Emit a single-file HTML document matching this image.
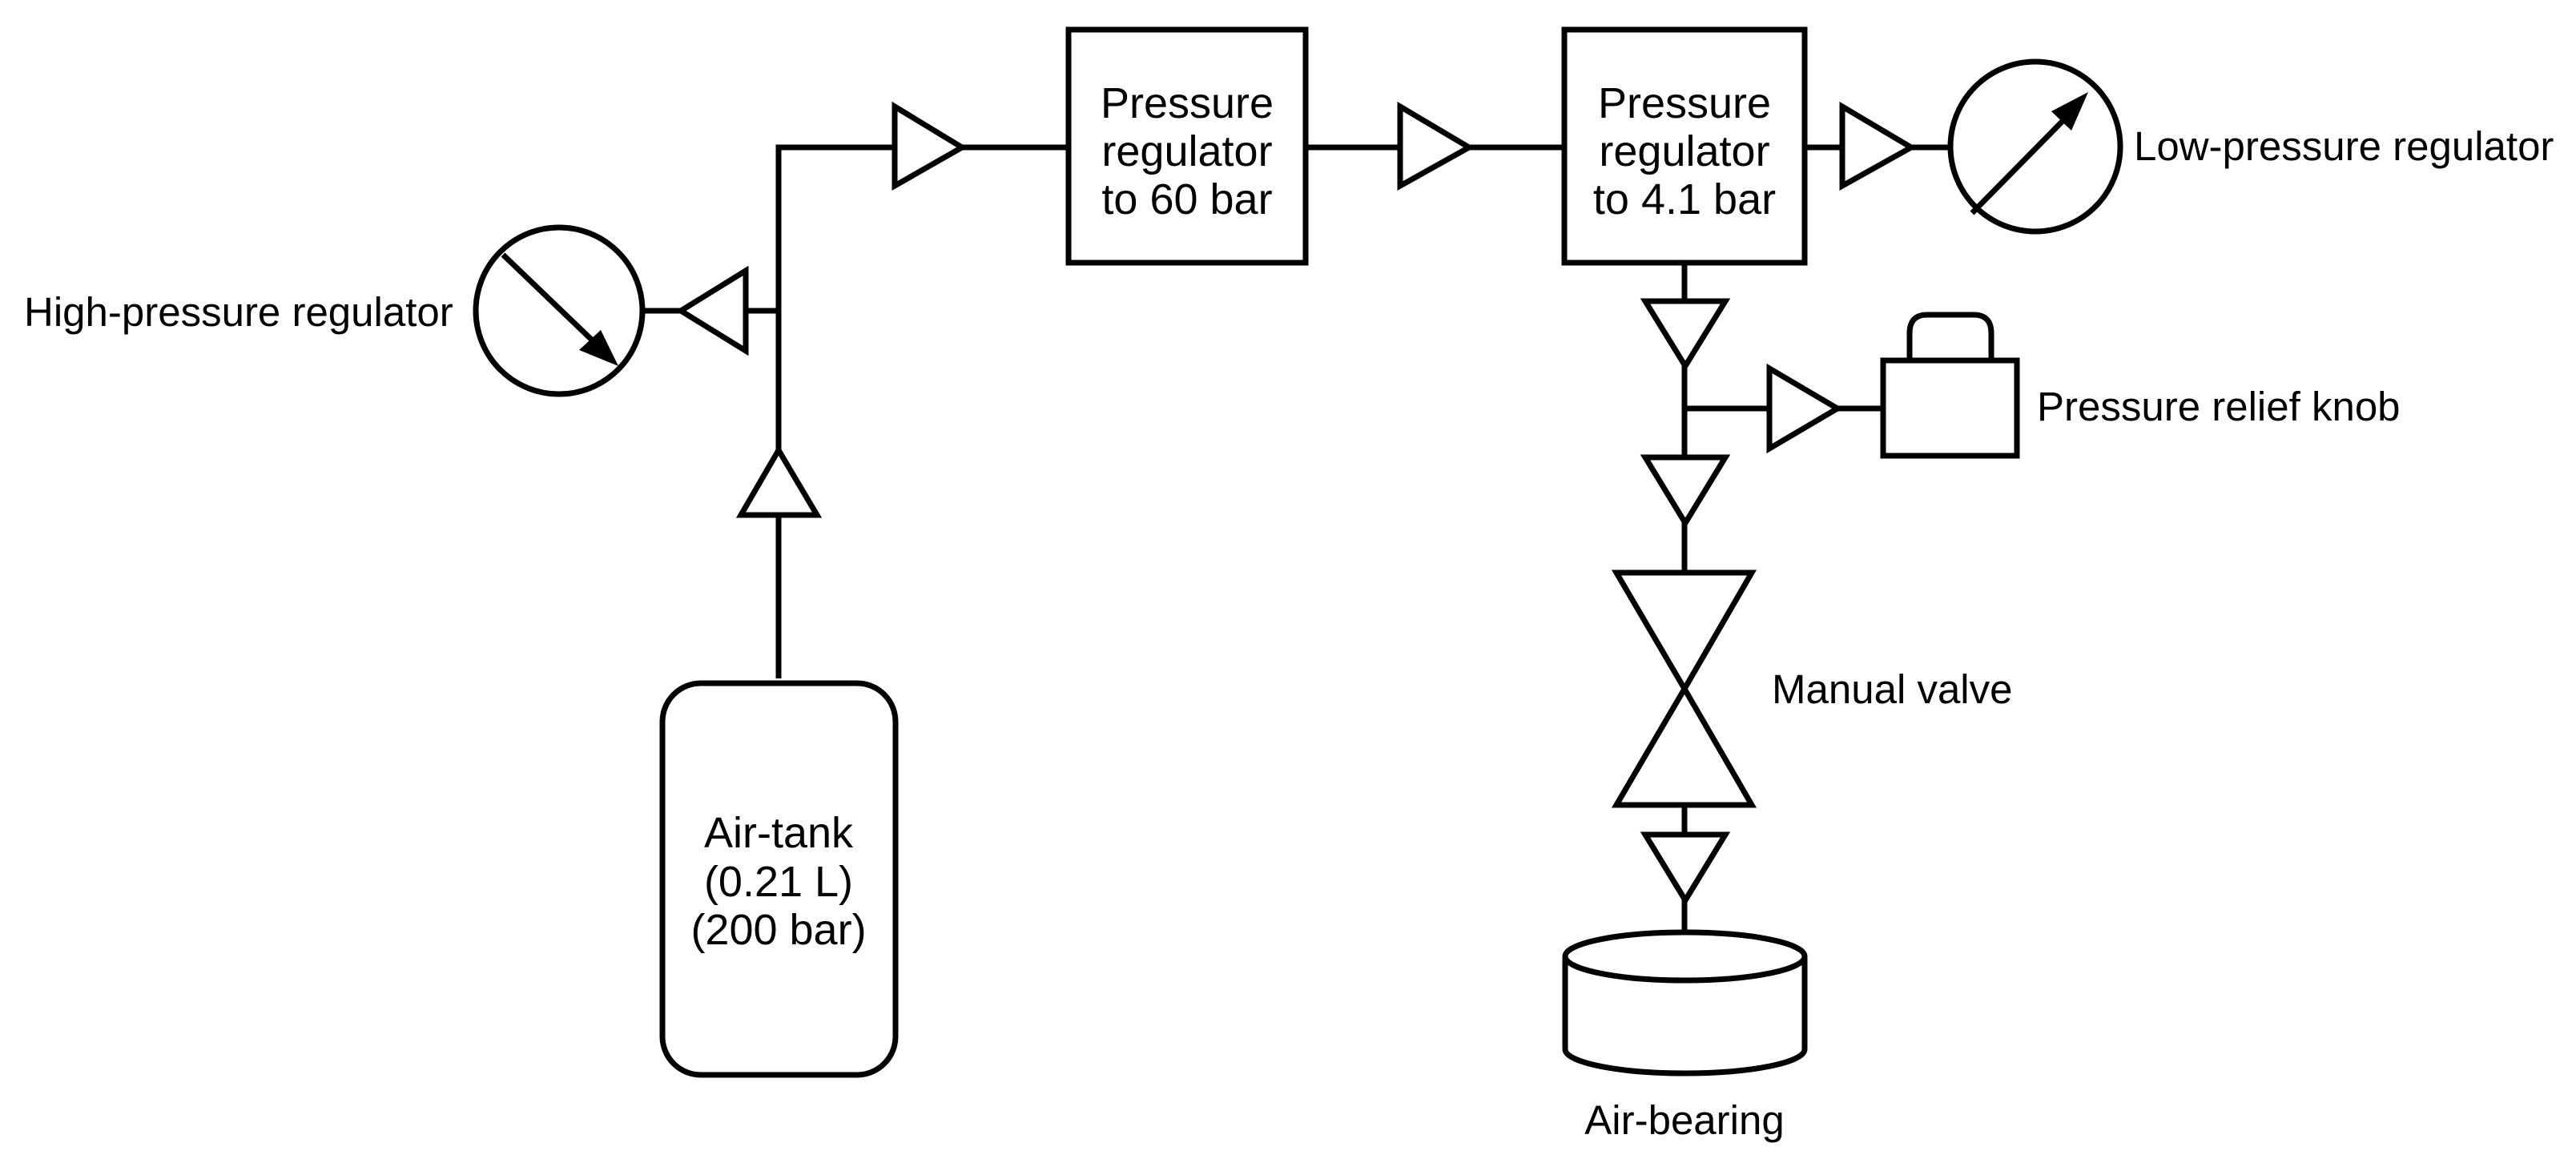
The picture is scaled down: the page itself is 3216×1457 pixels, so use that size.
<!DOCTYPE html>
<html><head><meta charset="utf-8"><style>
html,body{margin:0;padding:0;background:#fff;}
svg{display:block;}
text{font-family:"Liberation Sans",Arial,sans-serif;font-size:51px;fill:#000;}
text.b{font-size:54px;}
</style></head><body>
<svg width="3216" height="1457" viewBox="0 0 3216 1457" xmlns="http://www.w3.org/2000/svg">
<g fill="none" stroke="#000" stroke-width="7" stroke-linejoin="miter">
<polyline points="972,847 972,184 1117,184"/>
<line x1="1201" y1="184" x2="1334" y2="184"/>
<line x1="1630" y1="184" x2="1748" y2="184"/>
<line x1="1834" y1="184" x2="1953" y2="184"/>
<line x1="2253" y1="184" x2="2300" y2="184"/>
<line x1="2386" y1="184" x2="2434" y2="184"/>
<line x1="803" y1="388" x2="850" y2="388"/>
<line x1="931" y1="388" x2="972" y2="388"/>
<polygon points="1117,133 1201,184 1117,232" fill="#fff"/>
<polygon points="1748,133 1834,184 1748,232" fill="#fff"/>
<polygon points="2300,133 2386,184 2300,232" fill="#fff"/>
<polygon points="931,338 850,388 931,438" fill="#fff"/>
<polygon points="925,643 972,562 1020,643" fill="#fff"/>
<rect x="1334" y="37" width="296" height="291" fill="#fff"/>
<rect x="1953" y="37" width="300" height="291" fill="#fff"/>
<rect x="827" y="853" width="291" height="489" rx="48" fill="#fff"/>
<circle cx="698" cy="388" r="104" fill="#fff"/>
<line x1="628" y1="318" x2="750" y2="435"/>
<circle cx="2541" cy="183" r="106" fill="#fff"/>
<line x1="2462" y1="266" x2="2588" y2="138"/>
<line x1="2103" y1="328" x2="2103" y2="1164"/>
<line x1="2103" y1="510" x2="2209" y2="510"/>
<line x1="2294" y1="510" x2="2351" y2="510"/>
<polygon points="2054,376 2154,376 2104,457" fill="#fff"/>
<polygon points="2054,571 2154,571 2104,653" fill="#fff"/>
<polygon points="2054,1042 2154,1042 2104,1124" fill="#fff"/>
<polygon points="2209,460 2294,510 2209,560" fill="#fff"/>
<path d="M2384,450 V416 Q2384,393 2406,393 H2464 Q2486,393 2486,416 V450" fill="#fff"/>
<rect x="2351" y="450" width="167" height="119" fill="#fff"/>
<polygon points="2018,715 2187,715 2103,860 2187,1005 2018,1005 2103,860" fill="#fff"/>
<path d="M1954,1194 V1310 A149.5,30 0 0 0 2253,1310 V1194" fill="#fff"/>
<ellipse cx="2103.5" cy="1194" rx="149.5" ry="30" fill="#fff"/>
</g>
<polygon points="772,457 723,437 750,412" fill="#000"/>
<polygon points="2607,115 2561,139 2586,163" fill="#000"/>
<g text-anchor="middle">
<text class="b" x="1482" y="147">Pressure</text>
<text class="b" x="1482" y="207">regulator</text>
<text class="b" x="1482" y="267">to 60 bar</text>
<text class="b" x="2103" y="147">Pressure</text>
<text class="b" x="2103" y="207">regulator</text>
<text class="b" x="2103" y="267">to 4.1 bar</text>
<text class="b" x="972" y="1058">Air-tank</text>
<text class="b" x="972" y="1119">(0.21 L)</text>
<text class="b" x="972" y="1179">(200 bar)</text>
<text x="2103" y="1416">Air-bearing</text>
</g>
<text x="30" y="407">High-pressure regulator</text>
<text x="2664" y="200">Low-pressure regulator</text>
<text x="2543" y="525">Pressure relief knob</text>
<text x="2212" y="878">Manual valve</text>
</svg>
</body></html>
